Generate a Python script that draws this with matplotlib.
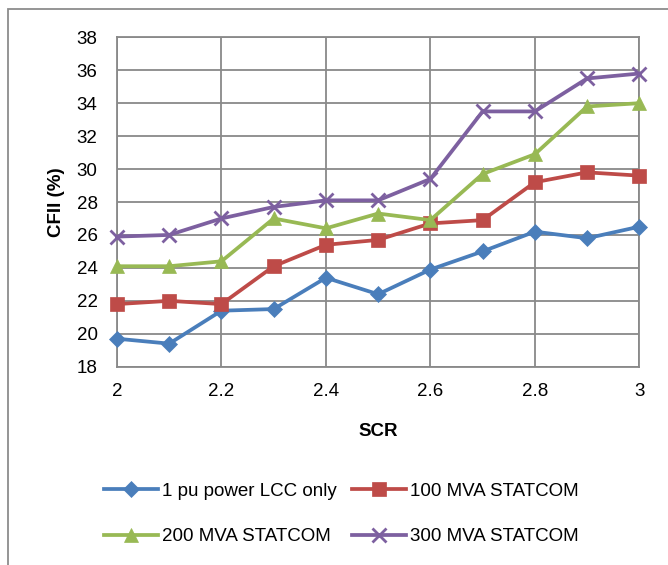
import matplotlib.pyplot as plt
from matplotlib.patches import Rectangle

# SCR sweep and CFII results for each compensation case
scr = [2.0, 2.1, 2.2, 2.3, 2.4, 2.5, 2.6, 2.7, 2.8, 2.9, 3.0]
lcc_only = [19.7, 19.4, 21.4, 21.5, 23.4, 22.4, 23.9, 25.0, 26.2, 25.8, 26.5]
statcom_100 = [21.8, 22.0, 21.8, 24.1, 25.4, 25.7, 26.7, 26.9, 29.2, 29.8, 29.6]
statcom_200 = [24.1, 24.1, 24.4, 27.0, 26.4, 27.3, 26.9, 29.7, 30.9, 33.8, 34.0]
statcom_300 = [25.9, 26.0, 27.0, 27.7, 28.1, 28.1, 29.4, 33.5, 33.5, 35.5, 35.8]

labels = ["1 pu power LCC only", "100 MVA STATCOM", "200 MVA STATCOM", "300 MVA STATCOM"]
colors = ["#4A7EBB", "#BE4B48", "#98B954", "#7D60A0"]
markers = ["D", "s", "^", "x"]
msizes = [8, 10, 10, 10]
x_ticks = [2.0, 2.2, 2.4, 2.6, 2.8, 3.0]
x_ticklabels = ["2", "2.2", "2.4", "2.6", "2.8", "3"]
y_ticks = list(range(18, 39, 2))

plt.rcParams["font.family"] = ["Liberation Sans", "DejaVu Sans"]
grid_c = "#898989"
fs = 13.5

fig = plt.figure(figsize=(6.68, 5.65), dpi=100)
ax = fig.add_axes([117 / 668, 1 - 366.7 / 565, 522.3 / 668, 329.4 / 565])

series = [lcc_only, statcom_100, statcom_200, statcom_300]
handles = []
for vals, lab, c, m, ms in zip(series, labels, colors, markers, msizes):
    h, = ax.plot(scr, vals, color=c, lw=2.7, marker=m, ms=ms, mew=2 if m == "x" else 0.5,
                 mec=c, mfc=c, label=lab, clip_on=False, zorder=3)
    handles.append(h)

ax.set_xlim(2, 3)
ax.set_ylim(18, 38)
ax.set_xticks(x_ticks)
ax.set_xticklabels(x_ticklabels)
ax.set_yticks(y_ticks)
ax.tick_params(length=0, labelsize=fs, colors="black")
ax.tick_params(axis="x", pad=12)
ax.tick_params(axis="y", pad=14)
ax.grid(True, color=grid_c, lw=1.3)
for s in ax.spines.values():
    s.set_color(grid_c)
    s.set_linewidth(1.3)
ax.set_axisbelow(True)

ax.set_xlabel("SCR", fontsize=fs, fontweight="bold", labelpad=16)
ax.set_ylabel("CFII (%)", fontsize=fs, fontweight="bold", labelpad=8)

# chart frame (right and bottom edges run off the figure)
fig.patches.append(Rectangle((8 / 668, -0.1), 1.2, 1 - 9 / 565 + 0.1, transform=fig.transFigure,
                             fill=False, edgecolor="#8C8C8C", lw=1.3))

# legend filled row by row: LCC, 100 / 200, 300
order = [0, 2, 1, 3]
fig.legend([handles[i] for i in order], [labels[i] for i in order],
           loc="center", bbox_to_anchor=(341 / 668, 1 - 514 / 565), ncol=2, frameon=False,
           fontsize=fs, handlelength=2.9, handletextpad=0.2, columnspacing=0.8,
           labelspacing=1.5)

fig.savefig("out.png", dpi=100)
